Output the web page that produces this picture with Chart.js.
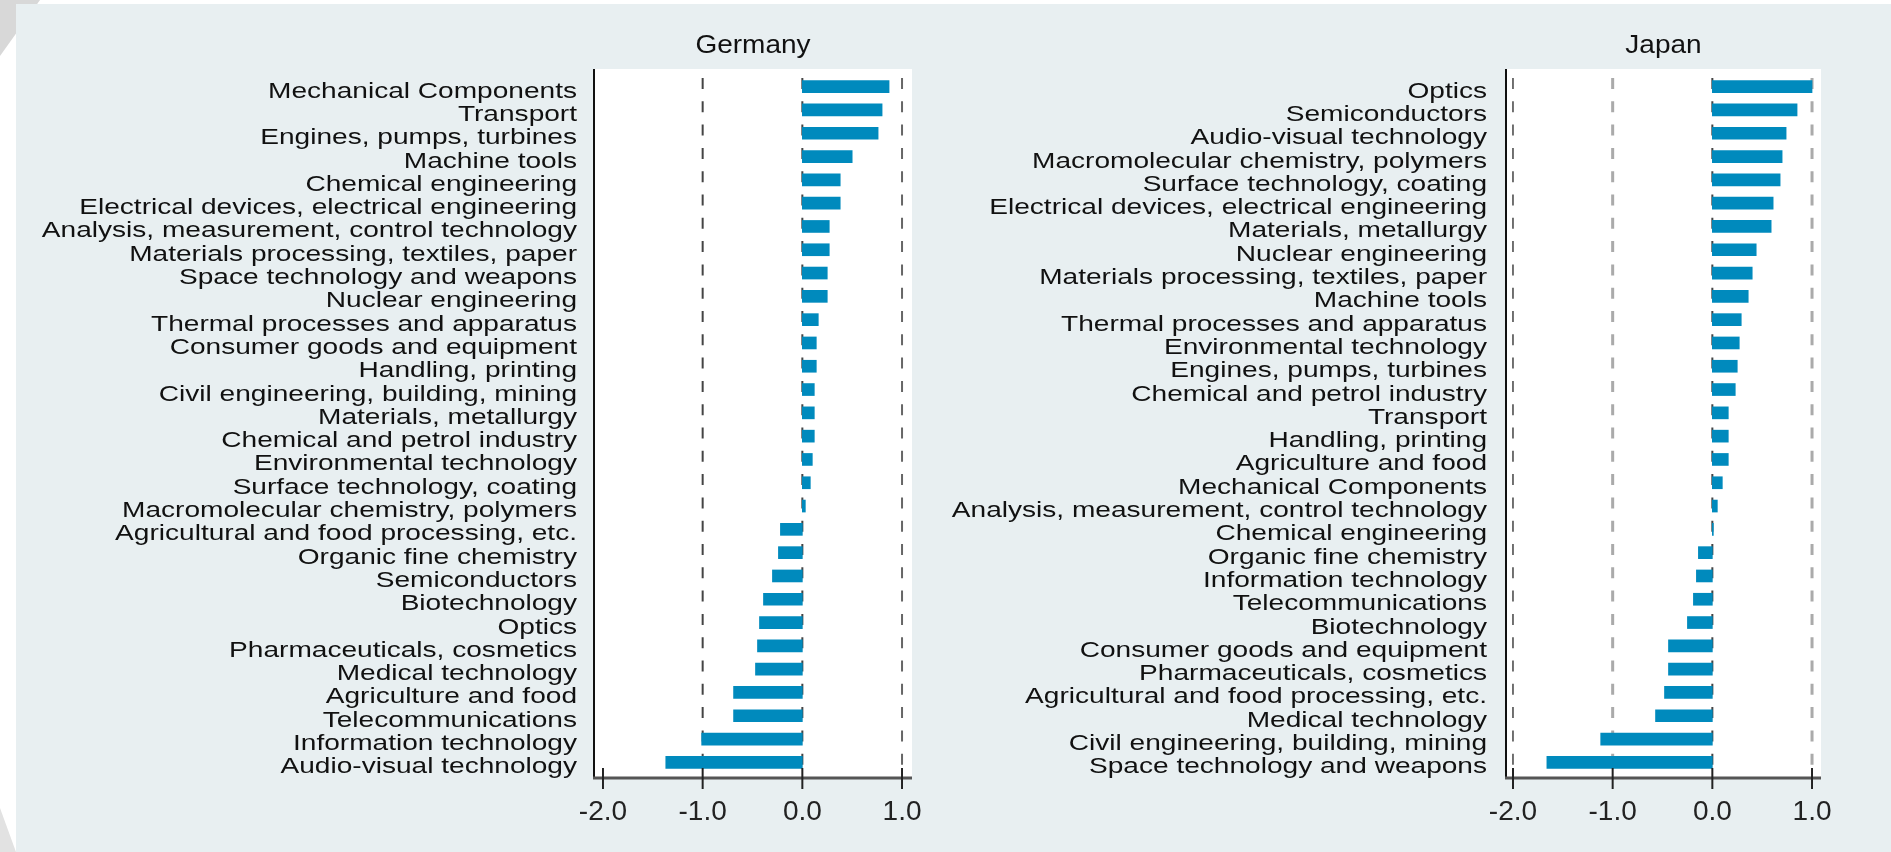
<!DOCTYPE html>
<html>
<head>
<meta charset="utf-8">
<title>Germany / Japan</title>
<script src="https://cdn.jsdelivr.net/npm/chart.js@4.4.1/dist/chart.umd.min.js"></script>
<style>
  body { margin: 0; background: #fff; width: 1891px; height: 852px; overflow: hidden; position: relative; }
  #frame { position: absolute; left: 16px; top: 4px; right: 0; bottom: 0; background: #e8eff1; }
  .corner { position: absolute; background: #d8d8d8; }
  #cornerTop { left: 0; top: 0; width: 40px; height: 56px; clip-path: polygon(0 0, 100% 0, 0 100%); }
  #cornerBottom { left: 0; top: 808px; width: 16px; height: 44px; background: #e2e2e2; clip-path: polygon(0 0, 100% 100%, 0 100%); }
  canvas { position: absolute; top: 0; }
  #de { left: 0; }
  #jp { left: 940px; }
</style>
</head>
<body>
<div class="corner" id="cornerTop"></div>
<div class="corner" id="cornerBottom"></div>
<div id="frame"></div>
<canvas id="de" width="940" height="852"></canvas>
<canvas id="jp" width="951" height="852"></canvas>
<script>
// --- données ---
const deLabels = [
    'Mechanical Components', 'Transport', 'Engines, pumps, turbines', 'Machine tools',
    'Chemical engineering', 'Electrical devices, electrical engineering',
    'Analysis, measurement, control technology', 'Materials processing, textiles, paper',
    'Space technology and weapons', 'Nuclear engineering', 'Thermal processes and apparatus',
    'Consumer goods and equipment', 'Handling, printing', 'Civil engineering, building, mining',
    'Materials, metallurgy', 'Chemical and petrol industry', 'Environmental technology',
    'Surface technology, coating', 'Macromolecular chemistry, polymers',
    'Agricultural and food processing, etc.', 'Organic fine chemistry', 'Semiconductors',
    'Biotechnology', 'Optics', 'Pharmaceuticals, cosmetics', 'Medical technology',
    'Agriculture and food', 'Telecommunications', 'Information technology', 'Audio-visual technology'
];
const deValues = [
    0.87, 0.80, 0.76, 0.50, 0.38, 0.38, 0.27, 0.27, 0.25, 0.25,
    0.16, 0.14, 0.14, 0.12, 0.12, 0.12, 0.10, 0.08, 0.03, -0.22,
    -0.24, -0.30, -0.39, -0.43, -0.45, -0.47, -0.69, -0.69, -1.01, -1.37
];

const jpLabels = [
    'Optics', 'Semiconductors', 'Audio-visual technology', 'Macromolecular chemistry, polymers',
    'Surface technology, coating', 'Electrical devices, electrical engineering',
    'Materials, metallurgy', 'Nuclear engineering', 'Materials processing, textiles, paper',
    'Machine tools', 'Thermal processes and apparatus', 'Environmental technology',
    'Engines, pumps, turbines', 'Chemical and petrol industry', 'Transport', 'Handling, printing',
    'Agriculture and food', 'Mechanical Components', 'Analysis, measurement, control technology',
    'Chemical engineering', 'Organic fine chemistry', 'Information technology',
    'Telecommunications', 'Biotechnology', 'Consumer goods and equipment',
    'Pharmaceuticals, cosmetics', 'Agricultural and food processing, etc.', 'Medical technology',
    'Civil engineering, building, mining', 'Space technology and weapons'
];
const jpValues = [
    1.00, 0.85, 0.74, 0.70, 0.68, 0.61, 0.59, 0.44, 0.40, 0.36,
    0.29, 0.27, 0.25, 0.23, 0.16, 0.16, 0.16, 0.10, 0.05, 0.01,
    -0.14, -0.16, -0.19, -0.25, -0.44, -0.44, -0.48, -0.57, -1.12, -1.66
];

const xTicks = [-2, -1, 0, 1];

const FONT = '"Liberation Sans", Arial, sans-serif';
const barColor = '#008abd';

// Plugin : fond blanc, pointillés, axes, libellés et titre
const panelPlugin = {
    id: 'panel',
    beforeDraw(chart, args, o) {
        const { ctx, chartArea: a, scales: { x } } = chart;
        ctx.save();
        ctx.fillStyle = '#fff';
        ctx.fillRect(a.left, o.frameTop, a.right - a.left, o.frameBottom - o.frameTop);
        o.grid.forEach(g => {
            const px = x.getPixelForValue(g.v);
            ctx.strokeStyle = g.color;
            ctx.lineWidth = g.width;
            ctx.setLineDash([11, 12.3]);
            ctx.beginPath();
            ctx.moveTo(px, o.frameTop + 9);
            ctx.lineTo(px, o.frameBottom);
            ctx.stroke();
        });
        ctx.restore();
    },
    afterDraw(chart, args, o) {
        const { ctx, chartArea: a, scales: { x, y } } = chart;
        ctx.save();

        // axe Y
        ctx.strokeStyle = '#111';
        ctx.lineWidth = 2;
        ctx.beginPath();
        ctx.moveTo(a.left, o.frameTop);
        ctx.lineTo(a.left, o.frameBottom + 1);
        ctx.stroke();

        // axe X
        ctx.strokeStyle = '#555';
        ctx.lineWidth = 3;
        ctx.beginPath();
        ctx.moveTo(a.left - 1, o.frameBottom);
        ctx.lineTo(a.right, o.frameBottom);
        ctx.stroke();

        // graduations
        ctx.strokeStyle = '#222';
        ctx.lineWidth = 2;
        xTicks.forEach(v => {
            const px = x.getPixelForValue(v);
            ctx.beginPath();
            ctx.moveTo(px, o.frameBottom - 10);
            ctx.lineTo(px, o.frameBottom + 11);
            ctx.stroke();
        });

        // libellés des catégories (police étirée comme l'original)
        ctx.fillStyle = '#111';
        ctx.font = '22px ' + FONT;
        ctx.textAlign = 'right';
        ctx.textBaseline = 'alphabetic';
        chart.data.labels.forEach((lab, i) => {
            const py = y.getPixelForValue(i);
            ctx.save();
            ctx.translate(a.left - o.labelGap, py + 11);
            ctx.scale(1.276, 1);
            ctx.fillText(lab, 0, 0);
            ctx.restore();
        });

        // titre
        ctx.font = '25px ' + FONT;
        ctx.textAlign = 'center';
        ctx.save();
        ctx.translate((a.left + a.right) / 2, 53);
        ctx.scale(1.12, 1);
        ctx.fillText(o.title, 0, 0);
        ctx.restore();

        ctx.restore();
    }
};

function makePanel(id, labels, values, opts) {
    const ctx = document.getElementById(id).getContext('2d');
    return new Chart(ctx, {
        type: 'bar',
        data: {
            labels: labels,
            datasets: [{ data: values, backgroundColor: barColor, borderWidth: 0, barThickness: 12 }]
        },
        options: {
            indexAxis: 'y',
            responsive: false,
            animation: false,
            layout: { padding: { left: opts.left, right: opts.right, top: 75, bottom: 18 } },
            plugins: {
                legend: { display: false },
                tooltip: { enabled: false },
                panel: { title: opts.title, grid: opts.grid, frameTop: 69, frameBottom: 778, labelGap: opts.labelGap }
            },
            scales: {
                x: {
                    type: 'linear',
                    min: opts.min,
                    max: opts.max,
                    afterFit: s => { s.height = 60; },
                    grid: { display: false },
                    border: { display: false },
                    ticks: {
                        stepSize: 1,
                        includeBounds: false,
                        padding: 13,
                        maxRotation: 0,
                        color: '#222',
                        font: { family: FONT, size: 28 },
                        callback: v => Number(v).toFixed(1)
                    }
                },
                y: { display: false }
            }
        },
        plugins: [panelPlugin]
    });
}

makePanel('de', deLabels, deValues, {
    title: 'Germany', left: 594, right: 28, min: -2.09, max: 1.10, labelGap: 17,
    grid: [
        { v: -1, color: '#444', width: 2 },
        { v: 0, color: '#444', width: 2 },
        { v: 1, color: '#666', width: 2 }
    ]
});

makePanel('jp', jpLabels, jpValues, {
    title: 'Japan', left: 566, right: 70, min: -2.07, max: 1.09, labelGap: 19,
    grid: [
        { v: -2, color: '#444', width: 1.5 },
        { v: -1, color: '#aaa', width: 3 },
        { v: 0, color: '#444', width: 2 },
        { v: 1, color: '#aaa', width: 3 }
    ]
});
</script>
</body>
</html>
